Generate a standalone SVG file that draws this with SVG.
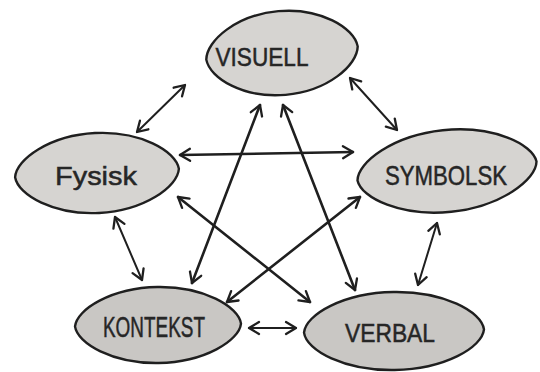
<svg xmlns="http://www.w3.org/2000/svg" width="540" height="372" viewBox="0 0 540 372">
<style>
.node{fill:#d6d4d1;stroke:#1f1f1f;stroke-width:2.4}
.dark{fill:#c9c7c4}
.lbl{font-family:"Liberation Sans","DejaVu Sans",sans-serif;fill:#262626;stroke:#262626;stroke-width:0.5;text-anchor:middle}
.e{fill:none;stroke:#1f1f1f;stroke-linecap:round;marker-start:url(#ah);marker-end:url(#ah)}
.thin{stroke-width:2}
.thick{stroke-width:2.6}
</style>
<defs>
<marker id="ah" markerUnits="userSpaceOnUse" markerWidth="16" markerHeight="16" viewBox="0 0 16 16" refX="13" refY="8" orient="auto-start-reverse">
<path d="M3,2 L13,8 L3,14" fill="none" stroke="#1f1f1f" stroke-width="2.3" stroke-linecap="round" stroke-linejoin="round"/>
</marker>
</defs>
<g id="connectors">
<line class="e thin" x1="185" y1="85" x2="137" y2="132"/>
<line class="e thin" x1="350" y1="78" x2="397" y2="130"/>
<line class="e thick" x1="180" y1="155" x2="353" y2="152"/>
<line class="e thick" x1="178" y1="197" x2="310" y2="302"/>
<line class="e thick" x1="360" y1="197" x2="227" y2="302"/>
<line class="e thick" x1="260" y1="105" x2="192" y2="283"/>
<line class="e thick" x1="283" y1="105" x2="355" y2="290"/>
<line class="e thin" x1="115" y1="217" x2="142" y2="280"/>
<line class="e thin" x1="437" y1="223" x2="418" y2="285"/>
<line class="e thin" x1="249" y1="328" x2="296" y2="328"/>
</g>
<g id="visuell">
<path class="node" transform="translate(282,53) rotate(-5)" d="M-76 0 C-74 -19 -42 -42 0 -42 C42 -42 74 -19 76 0 C74 19 42 42 0 42 C-42 42 -74 19 -76 0 Z"/>
<text class="lbl" x="262" y="66" font-size="26" textLength="93" lengthAdjust="spacingAndGlyphs">VISUELL</text>
</g>
<g id="fysisk">
<path class="node" transform="translate(97,173) rotate(-3)" d="M-82 0 C-80 -18 -45 -40 0 -40 C45 -40 80 -18 82 0 C80 18 45 40 0 40 C-45 40 -80 18 -82 0 Z"/>
<text class="lbl" x="96" y="185" font-size="26" textLength="82" lengthAdjust="spacingAndGlyphs">Fysisk</text>
</g>
<g id="symbolsk">
<path class="node" transform="translate(447,171) rotate(-6)" d="M-90 0 C-88 -18 -50 -41 0 -41 C50 -41 88 -18 90 0 C88 18 50 41 0 41 C-50 41 -88 18 -90 0 Z"/>
<text class="lbl" x="446" y="185" font-size="28" textLength="122" lengthAdjust="spacingAndGlyphs">SYMBOLSK</text>
</g>
<g id="kontekst">
<path class="node dark" transform="translate(158,325) rotate(-1)" d="M-83 0 C-81 -17 -46 -38 0 -38 C46 -38 81 -17 83 0 C81 17 46 38 0 38 C-46 38 -81 17 -83 0 Z"/>
<text class="lbl" x="154" y="337" font-size="29" textLength="102" lengthAdjust="spacingAndGlyphs">KONTEKST</text>
</g>
<g id="verbal">
<path class="node dark" transform="translate(394,331) rotate(-1)" d="M-90 0 C-88 -18 -50 -39 0 -39 C50 -39 88 -18 90 0 C88 18 50 39 0 39 C-50 39 -88 18 -90 0 Z"/>
<text class="lbl" x="390" y="342" font-size="26" textLength="90" lengthAdjust="spacingAndGlyphs">VERBAL</text>
</g>
</svg>
